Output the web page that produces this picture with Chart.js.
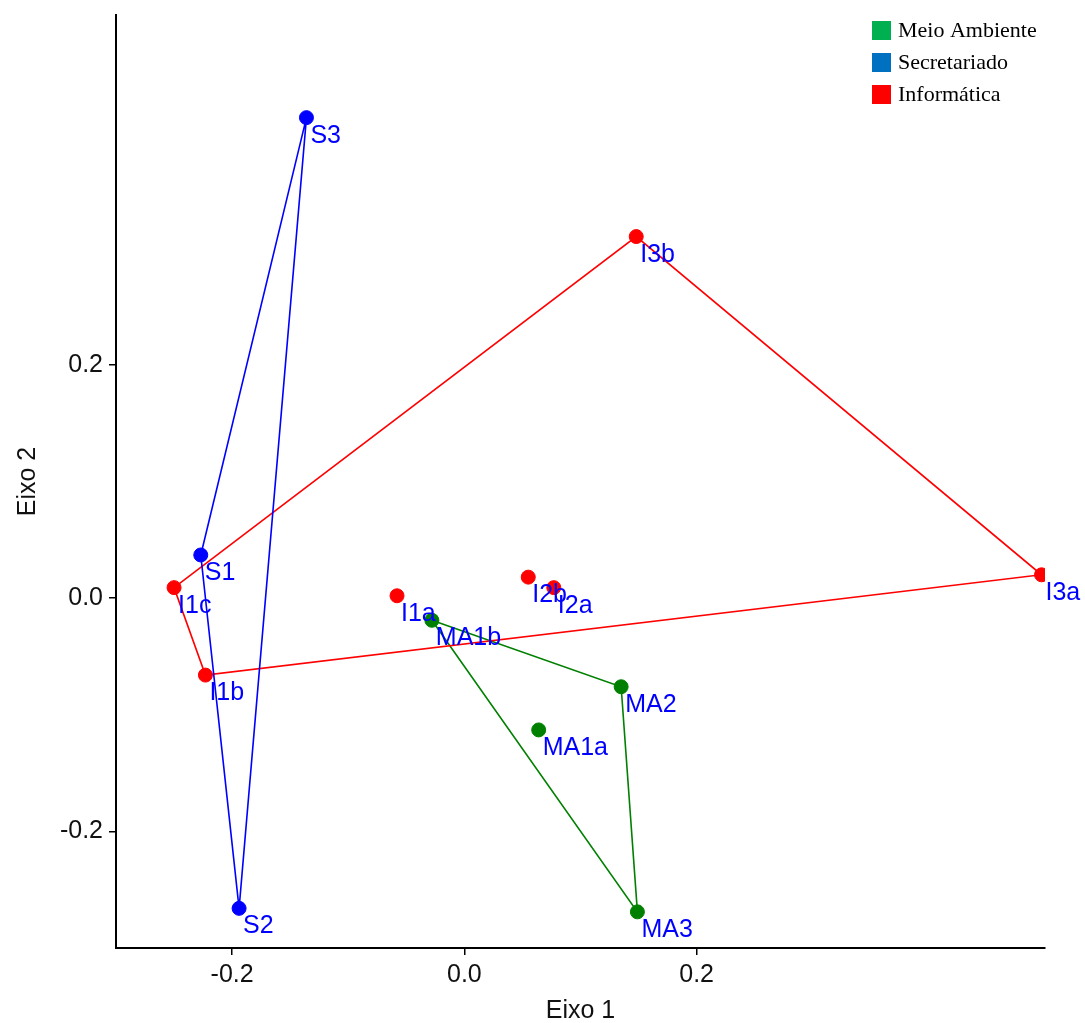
<!DOCTYPE html>
<html>
<head>
<meta charset="utf-8">
<script src="https://cdn.jsdelivr.net/npm/chart.js@4"></script>
<style>
  html, body { margin: 0; padding: 0; background: #fff; }
  #wrap { width: 1085px; height: 1023px; position: relative; }
</style>
</head>
<body>
<div id="wrap"><canvas id="biplot"></canvas></div>
<script>
// Scores
const secLabels = ['S1', 'S2', 'S3']
const secX = [-0.227, -0.194, -0.136]
const secY = [0.037, -0.266, 0.412]

const infLabels = ['I1a', 'I1b', 'I1c', 'I2a', 'I2b', 'I3a', 'I3b']
const infX = [-0.058, -0.223, -0.250, 0.077, 0.055, 0.497, 0.148]
const infY = [0.002, -0.066, 0.009, 0.009, 0.018, 0.020, 0.310]

const maLabels = ['MA1a', 'MA1b', 'MA2', 'MA3']
const maX = [0.064, -0.028, 0.135, 0.149]
const maY = [-0.113, -0.019, -0.076, -0.269]

// Hull outlines (closed)
const secHull = ['S3', 'S1', 'S2', 'S3']
const infHull = ['I1c', 'I3b', 'I3a', 'I1b', 'I1c']
const maHull = ['MA1b', 'MA2', 'MA3', 'MA1b']

const tickValues = [-0.2, 0.0, 0.2]
const legendNames = ['Meio Ambiente', 'Secretariado', 'Informática']
const legendColors = ['#00B050', '#0070C0', '#FF0000']

const toPoints = (xs, ys) => xs.map((x, i) => ({ x: x, y: ys[i] }))
const hullPoints = (hull, labels, xs, ys) =>
  hull.map(name => {
    const i = labels.indexOf(name)
    return { x: xs[i], y: ys[i] }
  })

const groups = [
  { labels: secLabels, xs: secX, ys: secY },
  { labels: infLabels, xs: infX, ys: infY },
  { labels: maLabels, xs: maX, ys: maY }
]

// Point names and the legend drawn on the canvas
const annotate = {
  id: 'annotate',
  afterDatasetsDraw(chart) {
    const ctx = chart.ctx
    const xs = chart.scales.x
    const ys = chart.scales.y
    ctx.save()
    ctx.font = '25px "Liberation Sans", Arial, sans-serif'
    ctx.fillStyle = '#0000FF'
    ctx.textAlign = 'left'
    ctx.textBaseline = 'alphabetic'
    groups.forEach(g => {
      g.labels.forEach((name, i) => {
        const px = xs.getPixelForValue(g.xs[i])
        const py = ys.getPixelForValue(g.ys[i])
        ctx.fillText(name, px + 4, py + 25)
      })
    })

    ctx.font = '22px "Liberation Serif", "Times New Roman", serif'
    ctx.textBaseline = 'middle'
    legendNames.forEach((name, i) => {
      const top = 21 + i * 32
      ctx.fillStyle = legendColors[i]
      ctx.fillRect(872, top, 19, 19)
      ctx.fillStyle = '#000'
      ctx.fillText(name, 898, top + 10)
    })
    ctx.restore()
  }
}

const axisTitleFont = { family: '"Liberation Sans", Arial, sans-serif', size: 25 }
const tickFont = { family: '"Liberation Sans", Arial, sans-serif', size: 25 }

const ctx = document.getElementById('biplot').getContext('2d')
new Chart(ctx, {
  type: 'scatter',
  data: {
    datasets: [
      {
        label: 'Secretariado',
        data: toPoints(secX, secY),
        backgroundColor: '#0000FF',
        borderColor: '#0000FF',
        pointRadius: 7,
        showLine: false
      },
      {
        label: 'Informática',
        data: toPoints(infX, infY),
        backgroundColor: '#FF0000',
        borderColor: '#FF0000',
        pointRadius: 7,
        showLine: false
      },
      {
        label: 'Meio Ambiente',
        data: toPoints(maX, maY),
        backgroundColor: '#008000',
        borderColor: '#008000',
        pointRadius: 7,
        showLine: false
      },
      {
        label: 'hull S',
        data: hullPoints(secHull, secLabels, secX, secY),
        borderColor: '#0000FF',
        borderWidth: 1.6,
        pointRadius: 0,
        showLine: true,
        fill: false
      },
      {
        label: 'hull I',
        data: hullPoints(infHull, infLabels, infX, infY),
        borderColor: '#FF0000',
        borderWidth: 1.6,
        pointRadius: 0,
        showLine: true,
        fill: false
      },
      {
        label: 'hull MA',
        data: hullPoints(maHull, maLabels, maX, maY),
        borderColor: '#008000',
        borderWidth: 1.6,
        pointRadius: 0,
        showLine: true,
        fill: false
      }
    ]
  },
  options: {
    responsive: true,
    maintainAspectRatio: false,
    animation: false,
    layout: { padding: { top: 15, right: 40, left: 0, bottom: 0 } },
    plugins: {
      legend: { display: false },
      tooltip: { enabled: false }
    },
    scales: {
      x: {
        type: 'linear',
        min: -0.3,
        max: 0.5,
        afterBuildTicks: axis => { axis.ticks = tickValues.map(v => ({ value: v })) },
        afterFit: axis => {
          axis.height = 75
          axis.paddingLeft = 0
          axis.paddingRight = 0
        },
        ticks: {
          font: tickFont,
          color: '#111',
          padding: 5,
          callback: v => v.toFixed(1)
        },
        grid: { drawOnChartArea: false, drawTicks: true, tickLength: 7, color: '#000', lineWidth: 1.5 },
        border: { display: true, color: '#000', width: 2 },
        title: { display: true, text: 'Eixo 1', font: axisTitleFont, color: '#111', padding: { top: 0, bottom: -3 } }
      },
      y: {
        type: 'linear',
        min: -0.3,
        max: 0.5,
        afterBuildTicks: axis => { axis.ticks = tickValues.map(v => ({ value: v })) },
        afterFit: axis => {
          axis.width = 116
          axis.paddingTop = 0
          axis.paddingBottom = 0
        },
        ticks: {
          font: tickFont,
          color: '#111',
          padding: 6,
          callback: v => v.toFixed(1)
        },
        grid: { drawOnChartArea: false, drawTicks: true, tickLength: 7, color: '#000', lineWidth: 1.5 },
        border: { display: true, color: '#000', width: 2 },
        title: { display: true, text: 'Eixo 2', font: axisTitleFont, color: '#111', padding: { top: 13, bottom: 0 } }
      }
    }
  },
  plugins: [annotate]
})
</script>
</body>
</html>
